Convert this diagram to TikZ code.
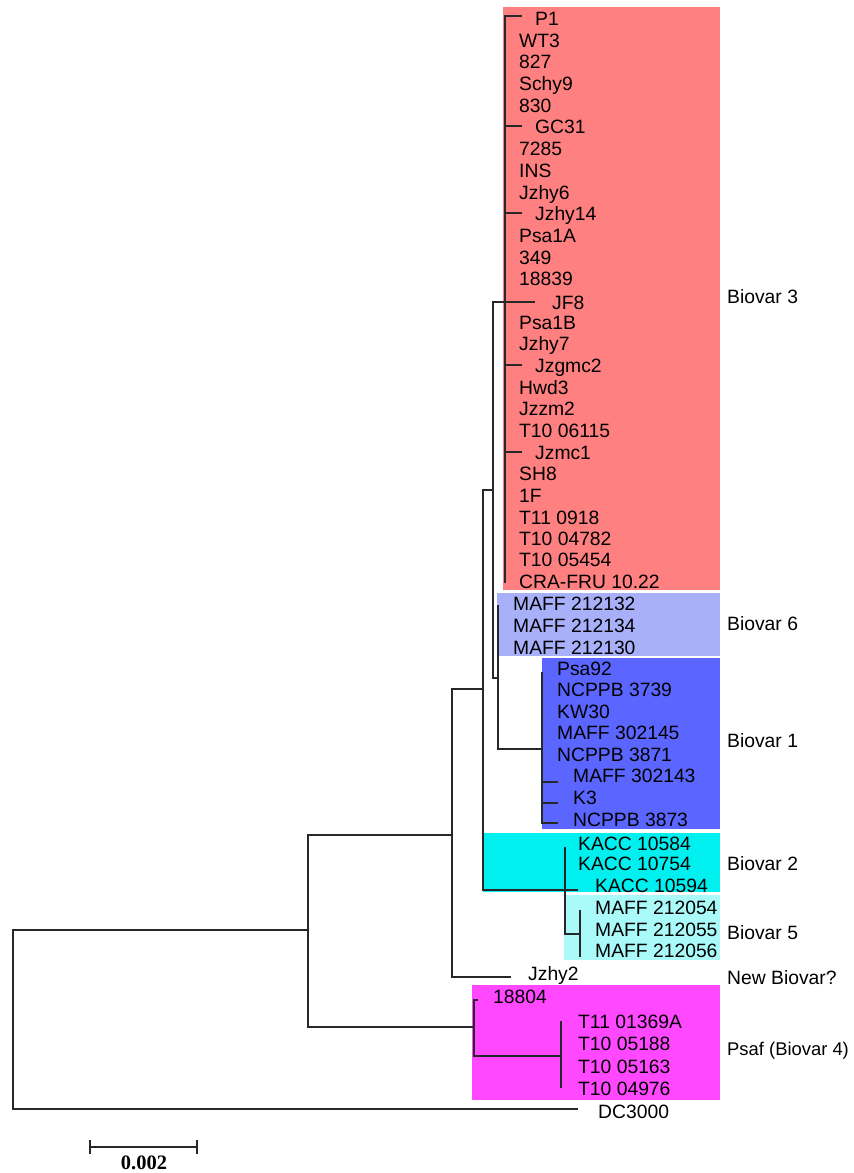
\documentclass[tikz,border=0pt]{standalone}
\usepackage{fontspec}
\setmainfont{Liberation Sans}
\newfontfamily\barfont{Liberation Serif}
\definecolor{bvthree}{RGB}{255,128,128}
\definecolor{bvsix}{RGB}{169,176,250}
\definecolor{bvone}{RGB}{90,102,255}
\definecolor{bvtwo}{RGB}{0,240,240}
\definecolor{bvfive}{RGB}{170,250,250}
\definecolor{bvpsaf}{RGB}{255,72,255}
\definecolor{linec}{RGB}{40,40,40}
\begin{document}
\begin{tikzpicture}[x=1pt,y=-1pt,
  br/.style={draw=linec, line width=1.4pt},
  lf/.style={anchor=west, inner sep=0pt, text height=14pt, text depth=0pt, font=\fontsize{19.3}{22}\selectfont},
  grp/.style={anchor=west, inner sep=0pt, text height=14pt, text depth=0pt, font=\fontsize{19.3}{22}\selectfont}]
\useasboundingbox (0,0) rectangle (854,1173);
\fill[white] (0,0) rectangle (854,1173);
% clade boxes
\fill[bvthree] (503,7) rectangle (720,590);
\fill[bvsix] (497,593) rectangle (720,656);
\fill[bvone] (542,658) rectangle (720,829);
\fill[bvtwo] (483,833) rectangle (720,892);
\fill[bvfive] (564,895) rectangle (720,960);
\fill[bvpsaf] (472,985) rectangle (720,1100);
% internal nodes
\coordinate (root) at (13,1020);
\coordinate (n308) at (308,930);
\coordinate (n452) at (452,835);
\coordinate (n483) at (483,689);
\coordinate (n493) at (493,490);
\coordinate (n3) at (505,302);
\coordinate (n6) at (498,678);
\coordinate (n1) at (542,749);
\coordinate (nK) at (565,890);
\coordinate (n5) at (580,934);
\coordinate (nPs) at (474,1027);
\coordinate (n4b) at (561,1056);
% backbone
\draw[br] (root) |- (n308);
\draw[br] (n308) |- (n452);
\draw[br] (n308) |- (nPs);
\draw[br] (n452) |- (n483);
\draw[br] (n483) |- (n493);
\draw[br] (n483) |- (nK);
\draw[br] (n493) |- (n3);
\draw[br] (n493) |- (n6);
\draw[br] (n6) |- (n1);
\draw[br] (nK) |- (n5);
\draw[br] (nPs) |- (n4b);
% outgroup
\coordinate (bDC) at (578,1109);
\node[lf] (tDC) at (598,1111) {DC3000};
\draw[br] (root) |- (bDC);
% Jzhy2
\coordinate (bJ2) at (511,977);
\node[lf] (tJ2) at (528,973) {Jzhy2};
\draw[br] (n452) |- (bJ2);
% Biovar 3 zero-length leaves
\foreach \i/\y/\t in {1/40/WT3, 2/61/827, 3/83/Schy9, 4/105/830, 6/148/7285, 7/170/INS, 8/192/Jzhy6, 10/235/Psa1A, 11/257/349, 12/278/18839, 14/322/Psa1B, 15/343/Jzhy7, 17/387/Hwd3, 18/408/Jzzm2, 19/430/T10 06115, 21/473/SH8, 22/495/1F, 23/517/T11 0918, 24/538/T10 04782, 25/559/T10 05454}{
  \coordinate (b3-\i) at (505,\y);
  \node[lf] (t3-\i) at (519,\y) {\t};
  \draw[br] (n3) |- (b3-\i);
}
\coordinate (b3-0) at (522,16);
\node[lf] (t3-0) at (535,18) {P1};
\draw[br] (n3) |- (b3-0);
\foreach \i/\y/\t in {5/126/GC31, 9/213/Jzhy14, 16/365/Jzgmc2, 20/452/Jzmc1}{
  \coordinate (b3-\i) at (522,\y);
  \node[lf] (t3-\i) at (535,\y) {\t};
  \draw[br] (n3) |- (b3-\i);
}
\coordinate (b3-13) at (535,302);
\node[lf] (t3-13) at (552,302) {JF8};
\draw[br] (n3) |- (b3-13);
\coordinate (b3-26) at (505,583);
\node[lf] (t3-26) at (519,581) {CRA-FRU 10.22};
\draw[br] (n3) |- (b3-26);
% Biovar 6
\foreach \i/\y/\yt/\t in {1/605/603/MAFF 212132, 2/625/625/MAFF 212134, 3/647/647/MAFF 212130}{
  \coordinate (b6-\i) at (498,\y);
  \node[lf] (t6-\i) at (513,\yt) {\t};
  \draw[br] (n6) |- (b6-\i);
}
% Biovar 1
\foreach \i/\y/\yt/\t in {1/672/668/Psa92, 2/689/689/NCPPB 3739, 3/711/711/KW30, 4/732/732/MAFF 302145, 5/754/754/NCPPB 3871}{
  \coordinate (b1-\i) at (542,\y);
  \node[lf] (t1-\i) at (557,\yt) {\t};
  \draw[br] (n1) |- (b1-\i);
}
\foreach \i/\y/\yt/\t in {6/782/775/MAFF 302143, 7/803/797/K3, 8/823/819/NCPPB 3873}{
  \coordinate (b1-\i) at (558,\y);
  \node[lf] (t1-\i) at (573,\yt) {\t};
  \draw[br] (n1) |- (b1-\i);
}
% Biovar 2
\coordinate (b2-1) at (565,847);
\node[lf] (t2-1) at (578,843) {KACC 10584};
\draw[br] (nK) |- (b2-1);
\coordinate (b2-2) at (565,863);
\node[lf] (t2-2) at (578,863) {KACC 10754};
\draw[br] (nK) |- (b2-2);
\coordinate (b2-3) at (578,890);
\node[lf] (t2-3) at (595,885) {KACC 10594};
\draw[br] (nK) |- (b2-3);
% Biovar 5
\foreach \i/\y/\yt/\t in {1/910/907/MAFF 212054, 2/929/929/MAFF 212055, 3/957/950/MAFF 212056}{
  \coordinate (b5-\i) at (580,\y);
  \node[lf] (t5-\i) at (595,\yt) {\t};
  \draw[br] (n5) |- (b5-\i);
}
% Psaf
\coordinate (b4-0) at (478,1000);
\node[lf] (t4-0) at (493,996) {18804};
\draw[br] (nPs) |- (b4-0);
\foreach \i/\y/\t in {1/1021/T11 01369A, 2/1043/T10 05188, 3/1066/T10 05163, 4/1088/T10 04976}{
  \coordinate (b4-\i) at (561,\y);
  \node[lf] (t4-\i) at (578,\y) {\t};
  \draw[br] (n4b) |- (b4-\i);
}
% group labels
\node[grp] (g3) at (727,296) {Biovar 3};
\node[grp] (g6) at (727,623) {Biovar 6};
\node[grp] (g1) at (727,740) {Biovar 1};
\node[grp] (g2) at (727,863) {Biovar 2};
\node[grp] (g5) at (727,932) {Biovar 5};
\node[grp] (gN) at (727,977) {New Biovar?};
\node[grp, font=\fontsize{18.4}{21}\selectfont] (g4) at (727,1048) {Psaf (Biovar 4)};
% scale bar
\coordinate (sbl) at (90,1147);
\coordinate (sbr) at (197,1147);
\draw[br, line width=1.5pt] (sbl) -- (sbr);
\draw[br, line width=1.5pt] ([yshift=-7pt]sbl) -- ([yshift=7pt]sbl);
\draw[br, line width=1.5pt] ([yshift=-7pt]sbr) -- ([yshift=7pt]sbr);
\node[inner sep=0pt, font=\barfont\bfseries\fontsize{20.5}{22}\selectfont] (sbt) at (144,1163) {0.002};
\end{tikzpicture}
\end{document}
